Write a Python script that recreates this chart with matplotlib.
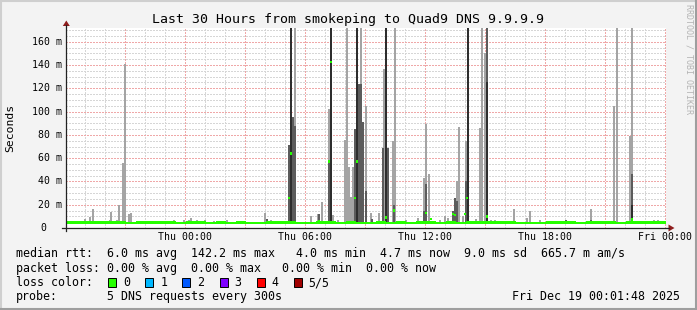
import matplotlib
matplotlib.use("Agg")
import matplotlib.pyplot as plt
import matplotlib.transforms as mtrans
from matplotlib.patches import Rectangle, Polygon
from matplotlib.lines import Line2D

# ---------------- data ----------------
title = "Last 30 Hours from smokeping to Quad9 DNS 9.9.9.9"
start_hour = -5.97          # hours relative to Thu 00:00
end_hour = 24.03
ymax_ms = 171.8

xtick_hours = [0, 6, 12, 18, 24]
xtick_labels = ["Thu 00:00", "Thu 06:00", "Thu 12:00", "Thu 18:00", "Fri 00:00"]
ytick_values = [20, 40, 60, 80, 100, 120, 140, 160]
ytick_labels = ["20 m", "40 m", "60 m", "80 m", "100 m", "120 m", "140 m", "160 m"]
zero_label = "0"

# median rtt baseline, one value per 30 minutes (ms)
median_base_ms = [4.6, 4.6, 4.8, 4.8, 4.6, 4.9, 4.5, 4.6, 4.8, 4.6,
                  4.7, 4.4, 4.6, 4.8, 4.4, 4.6, 4.5, 4.7, 4.5, 4.4,
                  4.6, 4.8, 4.6, 4.5, 4.3, 4.8, 4.7, 4.5, 4.6, 4.3,
                  4.4, 4.9, 4.5, 4.6, 4.4, 4.7, 4.6, 4.5, 4.8, 4.5,
                  4.6, 4.6, 4.7, 4.8, 4.6, 4.5, 4.5, 4.4, 4.6, 4.7,
                  4.6, 4.2, 4.6, 4.7, 4.6, 4.3, 4.6, 4.7, 4.6, 4.6]
median_base_step_h = 0.5

# median at spike intervals (hour, ms)
median_spike_hour = [5.18, 5.28, 6.70, 7.20, 7.30, 8.48, 8.58, 10.05, 10.45,
                     12.05, 12.30, 13.40, 13.50, 14.00, 14.08, 15.10, 22.35]
median_spike_ms = [26, 64, 6, 57, 142.7, 26, 57, 9, 15,
                   13, 7.5, 12, 11, 12, 26, 9.7, 7.3]

smoke_floor_ms = 4.0

# outer smoke (light gray): hour, top ms
light_hour = [-5.00, -4.75, -4.60, -3.75, -3.68, -3.40, -3.28, -3.10, -3.00,
              -2.78, -2.68, -2.20, -0.55, -0.05, 0.20, 0.30, 0.60, 1.00, 1.45,
              2.10, 3.98, 4.30, 5.48, 6.30, 6.65, 6.83, 7.20, 7.40, 7.65,
              7.98, 8.08, 8.18, 8.28, 8.38, 8.80, 9.03, 9.30, 9.70, 9.93,
              10.40, 10.50, 11.05, 11.65, 11.95, 12.05, 12.18, 12.75, 13.00,
              13.15, 13.60, 13.68, 13.90, 14.03, 14.55, 14.75, 14.85, 15.00,
              15.30, 15.50, 16.45, 17.10, 17.25, 17.75, 19.05, 20.30, 21.45,
              21.58, 22.25, 22.35, 23.45, 23.65]
light_top = [7.5, 9.7, 16, 7, 13.7, 7, 19.5, 56, 141,
             12, 13, 6, 6.5, 7, 6.5, 8.6, 7, 7, 6,
             6.5, 13, 6.5, 172, 10, 12, 22.6, 102, 11, 6.5,
             75.6, 172, 52.6, 27, 52.6, 172, 105, 13, 13, 137,
             75, 172, 6.5, 9, 43, 89, 46, 6.5, 10,
             9, 40, 87, 10, 75, 8, 86, 172, 150,
             7, 7, 16, 9, 15, 6.5, 6, 16, 105,
             172, 79, 172, 6.5, 7]

# inner smoke (dark gray)
dark_hour = [4.10, 5.18, 5.38, 5.48, 6.70, 7.20, 8.48, 8.68, 8.80, 8.90,
             9.03, 9.35, 9.90, 10.15, 10.45, 11.95, 12.05, 13.40, 13.50,
             13.60, 14.03, 14.13, 15.10, 19.05, 20.30, 22.35]
dark_top = [8, 71, 95, 88, 12, 57, 85, 124, 124, 91,
            32, 8, 69, 69, 20, 15, 38, 15, 26,
            23, 40, 40, 172, 7, 7, 46]

# core smoke (darkest gray)
darkest_hour = [5.28, 7.30, 8.58, 10.05, 14.13, 15.10, 22.35]
darkest_top = [172, 172, 172, 172, 172, 125, 20]

loss_labels = ["0", "1", "2", "3", "4", "5/5"]
loss_colors = ["#26ff00", "#00b8ff", "#0059ff", "#7e00ff", "#ff0000", "#a00000"]

row_median = "median rtt:  6.0 ms avg  142.2 ms max   4.0 ms min  4.7 ms now  9.0 ms sd  665.7 m am/s"
row_loss = "packet loss: 0.00 % avg  0.00 % max   0.00 % min  0.00 % now"
row_color = "loss color:"
row_probe_label = "probe:"
row_probe_text = "5 DNS requests every 300s"
timestamp = "Fri Dec 19 00:01:48 2025"
ylabel = "Seconds"
side_text = "RRDTOOL / TOBI OETIKER"

# ---------------- style ----------------
W, H = 697, 310
MONO = "DejaVu Sans Mono"
LIGHT, DARK, DARKEST, GREEN = "#a4a4a4", "#5c5c5c", "#2e2e2e", "#26ff00"
BIN_W = 0.1
MED_HALF = 1.05


def fx(px):
    return px / W


def fy(py):
    return 1 - py / H


fig = plt.figure(figsize=(W / 100, H / 100), dpi=100, facecolor="#f3f3f3")

# frame shading
fig.add_artist(Line2D([fx(0), fx(W)], [fy(1), fy(1)], transform=fig.transFigure,
                      color="#cfcfcf", lw=1.5))
fig.add_artist(Line2D([fx(1), fx(1)], [fy(0), fy(H)], transform=fig.transFigure,
                      color="#cfcfcf", lw=1.5))
fig.add_artist(Line2D([fx(0), fx(W)], [fy(H - 1), fy(H - 1)], transform=fig.transFigure,
                      color="#9e9e9e", lw=1.5))
fig.add_artist(Line2D([fx(W - 1), fx(W - 1)], [fy(0), fy(H)], transform=fig.transFigure,
                      color="#9e9e9e", lw=1.5))

ax = fig.add_axes([fx(65.6), fy(228), 600 / W, 200 / H])
ax.set_xlim(start_hour, end_hour)
ax.set_ylim(0, ymax_ms)
ax.set_facecolor("white")
for s in ax.spines.values():
    s.set_visible(False)
ax.set_xticks([])
ax.set_yticks([])

# grid (crisp 1px dotted lines)
minor_h = [h for h in range(-5, 25) if h % 3 != 0]
major_h = [h for h in range(-3, 25, 3)]
minor_y = [v for v in range(5, 171, 5) if v % 20 != 0]
major_y = list(range(20, 171, 20))
dots = (0, (1.4, 1.4))
gkw = dict(lw=0.72, linestyles=dots, antialiased=False)
ax.vlines(minor_h, 0, ymax_ms, colors="#d6d6d6", zorder=1, **gkw)
ax.hlines(minor_y, start_hour, end_hour, colors="#d6d6d6", zorder=1, **gkw)
ax.vlines(major_h, 0, ymax_ms, colors="#efa8a8", zorder=1.1, **gkw)
ax.hlines(major_y, start_hour, end_hour, colors="#efa8a8", zorder=1.1, **gkw)

# smoke
ax.bar(light_hour, [t - smoke_floor_ms for t in light_top], bottom=smoke_floor_ms,
       width=BIN_W, color=LIGHT, lw=0, zorder=2)
ax.bar(dark_hour, [t - smoke_floor_ms for t in dark_top], bottom=smoke_floor_ms,
       width=BIN_W, color=DARK, lw=0, zorder=3)
ax.bar(darkest_hour, [t - smoke_floor_ms for t in darkest_top], bottom=smoke_floor_ms,
       width=BIN_W, color=DARKEST, lw=0, zorder=4)

# median
base_x = [start_hour + i * median_base_step_h for i in range(len(median_base_ms))]
ax.bar(base_x, [2 * MED_HALF] * len(median_base_ms),
       bottom=[m - MED_HALF for m in median_base_ms],
       width=median_base_step_h, align="edge", color=GREEN, lw=0, zorder=5)
ax.bar(median_spike_hour, [2 * MED_HALF] * len(median_spike_ms),
       bottom=[m - MED_HALF for m in median_spike_ms],
       width=BIN_W, color=GREEN, lw=0, zorder=6)

# axes lines and arrows
AX_C = "#222222"
ARROW_C = "#8f1d1d"
fig.add_artist(Line2D([fx(62), fx(669)], [fy(228), fy(228)], transform=fig.transFigure,
                      color=AX_C, lw=0.9))
fig.add_artist(Line2D([fx(66.2), fx(66.2)], [fy(231), fy(25)], transform=fig.transFigure,
                      color=AX_C, lw=0.9))
fig.add_artist(Polygon([(fx(668.5), fy(224.5)), (fx(668.5), fy(231.5)), (fx(674.5), fy(228))],
                       closed=True, transform=fig.transFigure, color=ARROW_C, lw=0))
fig.add_artist(Polygon([(fx(62.8), fy(26)), (fx(69.8), fy(26)), (fx(66.3), fy(20.5))],
                       closed=True, transform=fig.transFigure, color=ARROW_C, lw=0))

# tick labels
bx = mtrans.blended_transform_factory(ax.transData, fig.transFigure)
for h, lab in zip(xtick_hours, xtick_labels):
    fig.text(h, fy(237.5), lab, transform=bx, ha="center", va="center",
             family=MONO, size=7.1, color="black")
by = mtrans.blended_transform_factory(fig.transFigure, ax.transData)
for v, lab in zip(ytick_values, ytick_labels):
    fig.text(fx(61.8), v, lab, transform=by, ha="right", va="center",
             family=MONO, size=7.1, color="black")
fig.text(fx(46.6), 0, zero_label, transform=by, ha="right", va="center",
         family=MONO, size=7.1, color="black")

# title, labels
fig.text(fx(348.5), fy(19), title, ha="center", va="center", family=MONO, size=9.55)
fig.text(fx(10.5), fy(128), ylabel, ha="center", va="center", rotation=90,
         family=MONO, size=8.2)
fig.text(fx(688.5), fy(4), side_text, ha="center", va="top", rotation=270,
         family=MONO, size=6.0, color="#b4b4b4")

# legend
LS = 8.36
fig.text(fx(16), fy(254), row_median, ha="left", va="center", family=MONO, size=LS)
fig.text(fx(16), fy(268.5), row_loss, ha="left", va="center", family=MONO, size=LS)
fig.text(fx(16), fy(282.5), row_color, ha="left", va="center", family=MONO, size=LS)
for i, (lab, col) in enumerate(zip(loss_labels, loss_colors)):
    x0 = 108.2 + 37.1 * i
    fig.add_artist(Rectangle((fx(x0), fy(286.7)), 8 / W, 8.5 / H, transform=fig.transFigure,
                             facecolor=col, edgecolor="black", lw=0.7))
    fig.text(fx(x0 + 15), fy(282.5), lab, ha="left", va="center", family=MONO, size=LS)
fig.text(fx(16), fy(296.5), row_probe_label, ha="left", va="center", family=MONO, size=LS)
fig.text(fx(107), fy(296.5), row_probe_text, ha="left", va="center", family=MONO, size=LS)
fig.text(fx(680.5), fy(296.5), timestamp, ha="right", va="center", family=MONO, size=LS)

fig.savefig("out.png", dpi=100, facecolor=fig.get_facecolor())
